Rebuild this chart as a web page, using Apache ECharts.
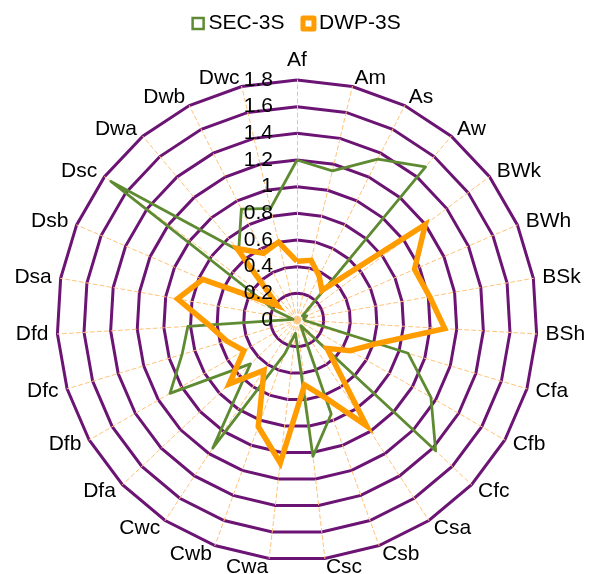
<!DOCTYPE html>
<html>
<head>
<meta charset="utf-8">
<script src="https://cdn.jsdelivr.net/npm/echarts@6/dist/echarts.min.js"></script>
<style>
  html, body { margin: 0; padding: 0; background: #fff; }
  #chart { width: 592px; height: 574px; }
</style>
</head>
<body>
<div id="chart"></div>
<script>
// climate classes, clockwise from the top
const categories = ['Af', 'Am', 'As', 'Aw', 'BWk', 'BWh', 'BSk', 'BSh', 'Cfa', 'Cfb', 'Cfc',
  'Csa', 'Csb', 'Csc', 'Cwa', 'Cwb', 'Cwc', 'Dfa', 'Dfb', 'Dfc', 'Dfd',
  'Dsa', 'Dsb', 'Dsc', 'Dwa', 'Dwb', 'Dwc'];

const sec3s = [1.2, 1.15, 1.35, 1.5, 0.05, 0.08, 0.05, 0.06, 0.87, 1.16, 1.43,
  0.05, 0.75, 1.03, 0.1, 0.27, 1.15, 0.48, 1.1, 0.9, 0.82,
  0.03, 0.18, 1.74, 0.68, 0.93, 0.86];

const dwp3s = [0.44, 0.46, 0.37, 0.29, 1.2, 0.96, 1.01, 1.11, 0.62, 0.46, 0.31,
  0.95, 0.62, 0.49, 1.08, 0.85, 0.45, 0.7, 0.46, 0.55, 0.66,
  0.91, 0.77, 0.18, 0.7, 0.56, 0.6];

const axisMax = 1.8;
const axisStep = 0.2;

const green = '#5E8B32';
const orange = '#FF9C00';
const purple = '#6C1474';

// echarts lays radar indicators out counter-clockwise, the chart goes clockwise
const cw = arr => [arr[0]].concat(arr.slice(1).reverse());

const chart = echarts.init(document.getElementById('chart'));

const option = {
  animation: false,
  textStyle: { fontFamily: 'Liberation Sans, Arial, sans-serif' },
  legend: {
    top: 8,
    left: 'center',
    itemWidth: 11,
    itemHeight: 11,
    itemGap: 16,
    textStyle: { fontSize: 21, color: '#000' },
    data: [
      { name: 'SEC-3S', icon: 'rect', itemStyle: { color: '#fff', borderColor: green, borderWidth: 2.5 } },
      { name: 'DWP-3S', icon: 'rect', itemStyle: { color: '#fff', borderColor: orange, borderWidth: 5, borderJoin: 'round' } }
    ]
  },
  radar: {
    center: [297, 320],
    radius: 240,
    startAngle: 90,
    splitNumber: Math.round(axisMax / axisStep),
    shape: 'polygon',
    indicator: cw(categories).map(name => ({ name: name, min: 0, max: axisMax })),
    axisName: { color: '#000', fontSize: 21 },
    nameGap: 9,
    splitArea: { show: false },
    splitLine: { lineStyle: { color: purple, width: 3 } },
    axisLine: { lineStyle: { color: '#FFC27A', width: 1, type: [4, 3] } },
    axisTick: { show: false },
    axisLabel: { show: false }
  },
  // only used to draw the value labels on the first spoke
  polar: { center: [297, 320], radius: 240 },
  angleAxis: { show: false, startAngle: 90, min: 0, max: 360 },
  radiusAxis: {
    min: 0,
    max: axisMax,
    interval: axisStep,
    z: 10,
    axisLine: { show: false },
    axisTick: { show: false },
    splitLine: { show: false },
    axisLabel: { fontSize: 21, color: '#000', margin: 24 }
  },
  series: [
    {
      type: 'radar',
      symbol: 'none',
      data: [
        { name: 'SEC-3S', value: cw(sec3s), lineStyle: { color: green, width: 2.8 }, itemStyle: { color: green } },
        { name: 'DWP-3S', value: cw(dwp3s), lineStyle: { color: orange, width: 5.5, join: 'miter' }, itemStyle: { color: orange } }
      ]
    }
  ]
};

chart.setOption(option);
</script>
</body>
</html>
